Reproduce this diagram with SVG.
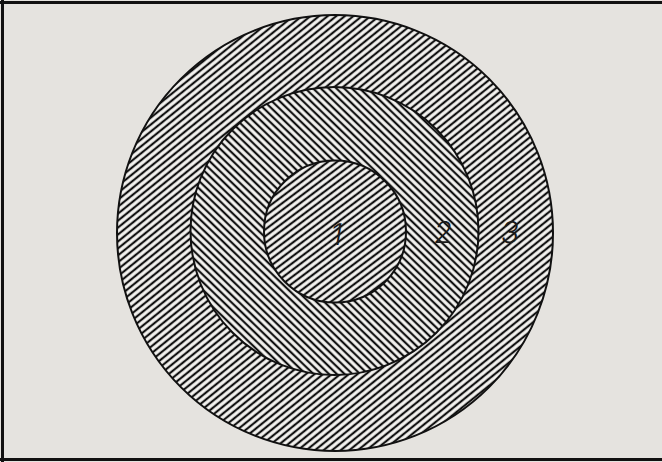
<svg xmlns="http://www.w3.org/2000/svg" width="662" height="462" viewBox="0 0 662 462">
<style>
.ring{stroke:#111;stroke-width:2}
.lbl{font-family:Inter,"DejaVu Sans",sans-serif;font-weight:300;font-size:30px;fill:#1a1a1a}
.hl{stroke:#111;stroke-width:2.2}
.bg{fill:#f5f4f1}
</style>
<defs>
<pattern id="hOuter" patternUnits="userSpaceOnUse" width="20" height="5.4" patternTransform="rotate(-39)">
<rect class="bg" width="20" height="5.4"/>
<line class="hl" x1="0" y1="2.7" x2="20" y2="2.7"/>
</pattern>
<pattern id="hMid" patternUnits="userSpaceOnUse" width="20" height="5.4" patternTransform="rotate(44)">
<rect class="bg" width="20" height="5.4"/>
<line class="hl" x1="0" y1="2.7" x2="20" y2="2.7"/>
</pattern>
<pattern id="hInner" patternUnits="userSpaceOnUse" width="20" height="5.4" patternTransform="rotate(-37)">
<rect class="bg" width="20" height="5.4"/>
<line class="hl" x1="0" y1="2.7" x2="20" y2="2.7"/>
</pattern>
</defs>
<rect x="0" y="0" width="662" height="462" fill="#e5e3df"/>
<path d="M0 2.5H662M2.5 0V462M0 459.5H662" fill="none" stroke="#111" stroke-width="3"/>
<g id="ring3"><circle class="ring" cx="335" cy="233" r="218" fill="url(#hOuter)"/></g>
<g id="ring2"><circle class="ring" cx="334.5" cy="231" r="144" fill="url(#hMid)"/></g>
<g id="ring1"><circle class="ring" cx="335" cy="231.5" r="71" fill="url(#hInner)"/></g>
<g id="labels">
<text class="lbl" x="330" y="245" transform="skewX(-8) translate(34 0)">1</text>
<text class="lbl" x="433" y="243" transform="skewX(-8) translate(34 0)">2</text>
<text class="lbl" x="500" y="243" transform="skewX(-8) translate(34 0)">3</text>
</g>
</svg>
